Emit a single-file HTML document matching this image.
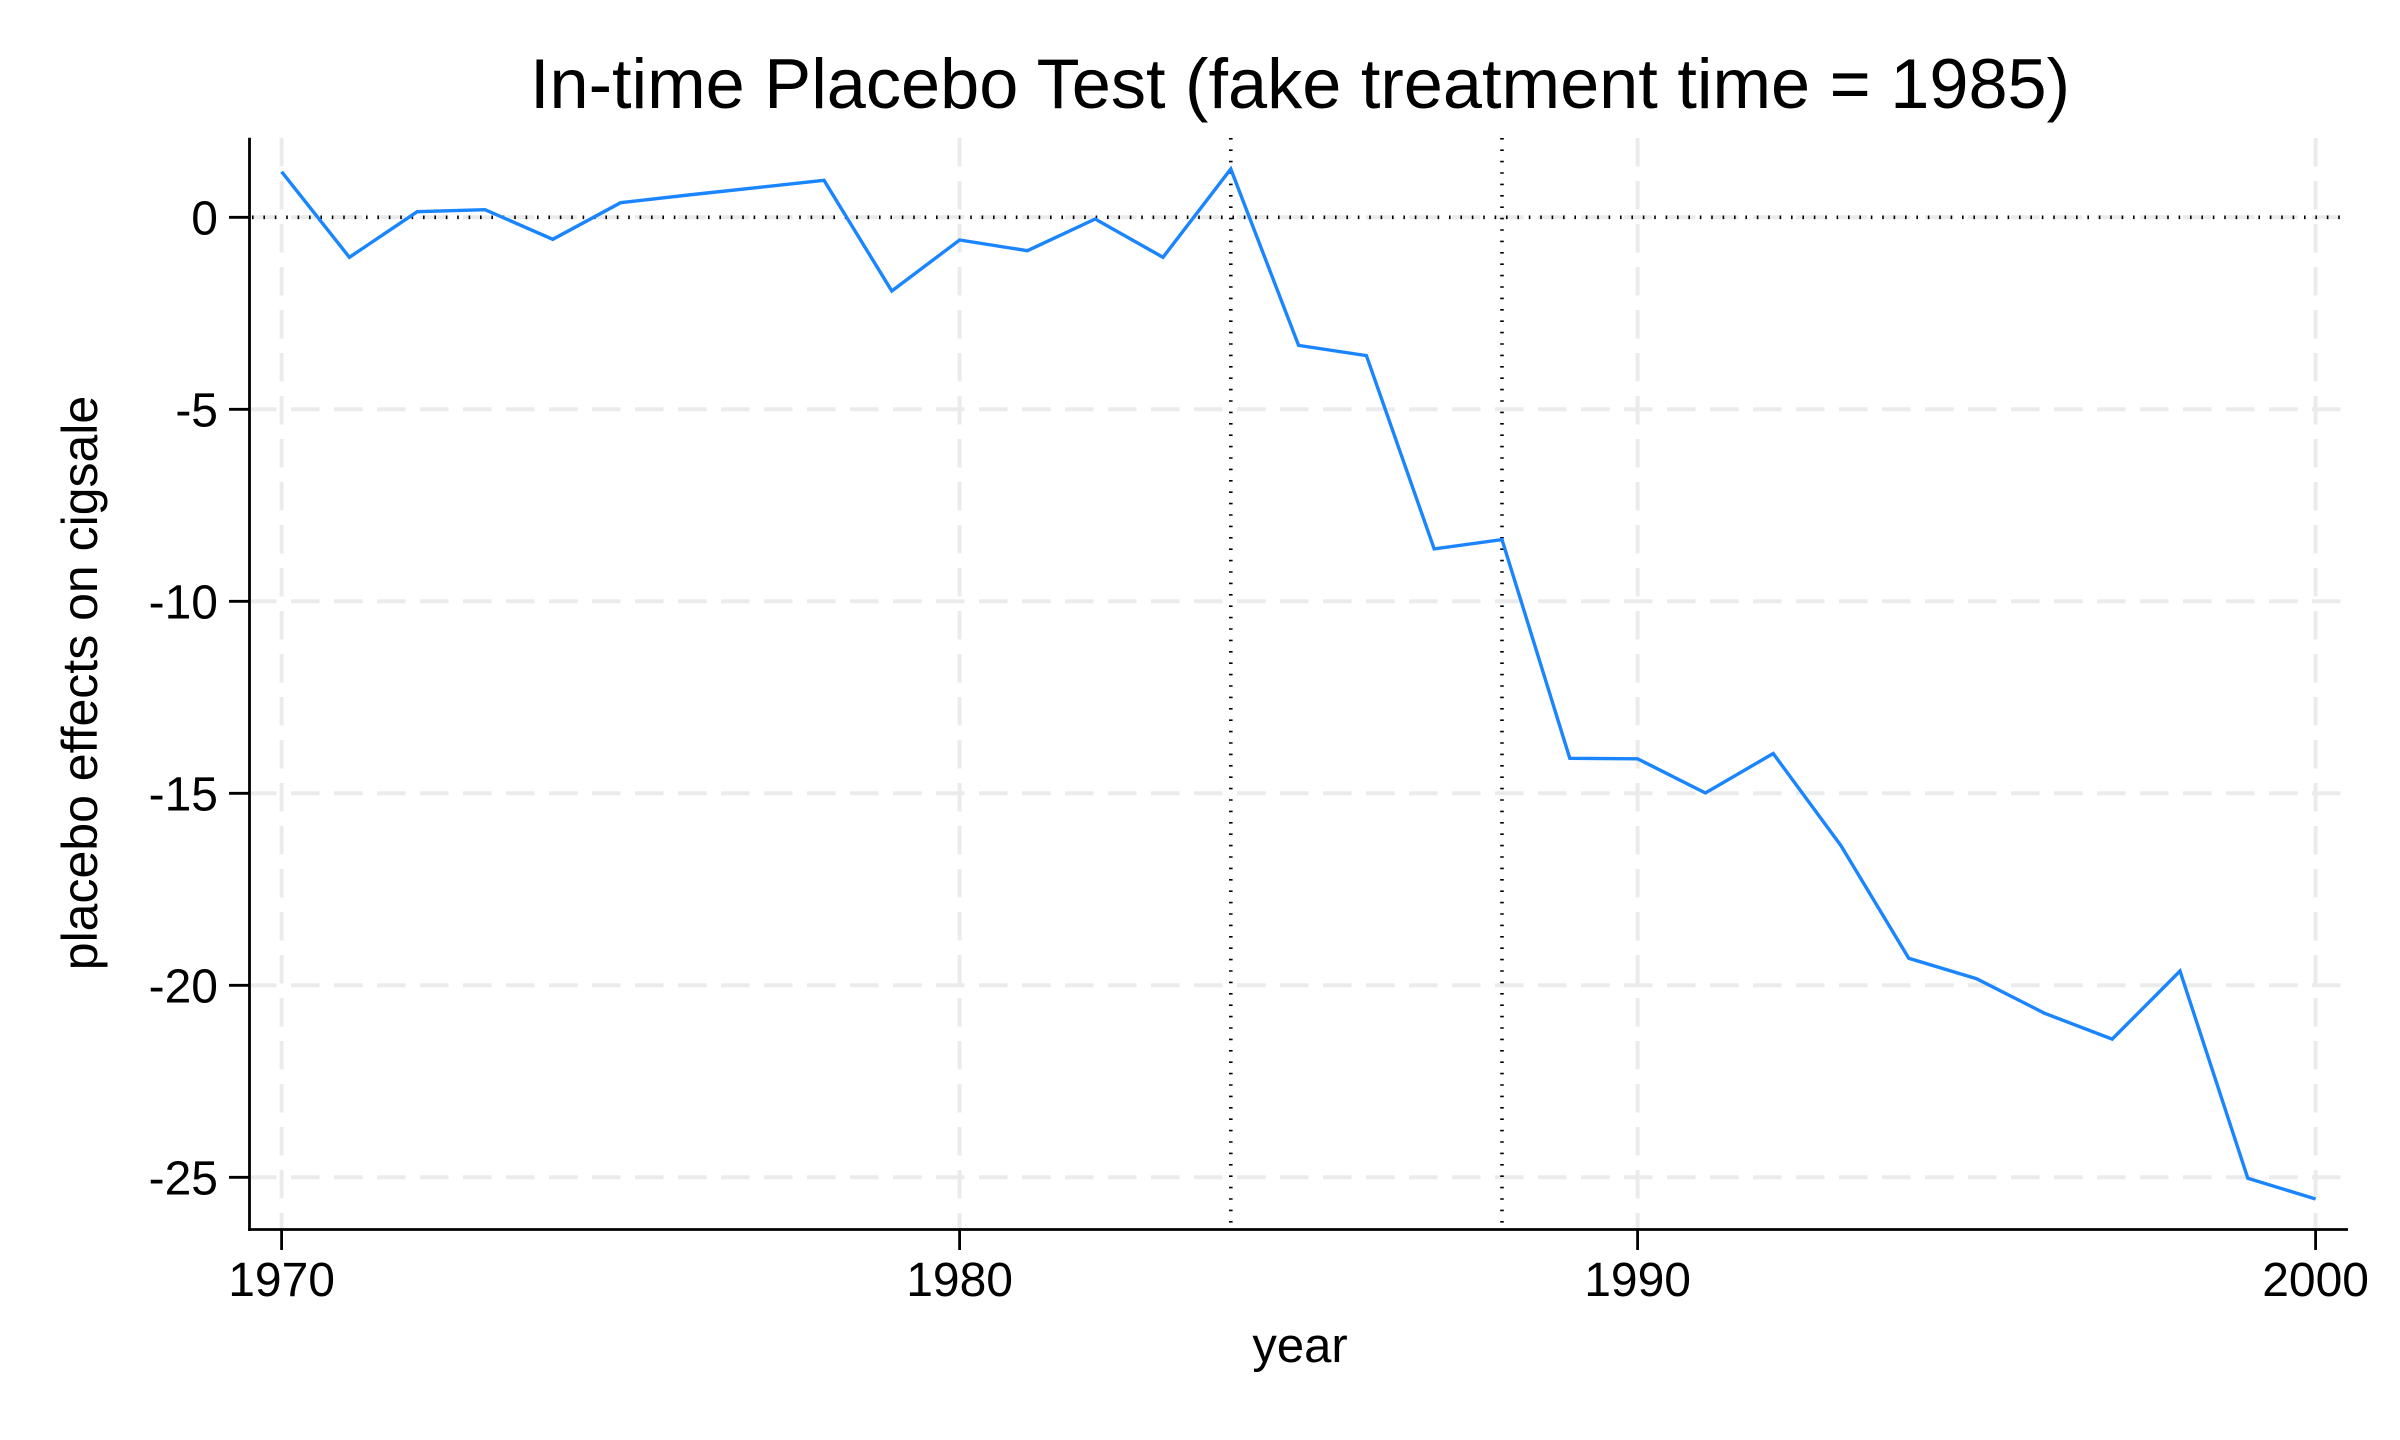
<!DOCTYPE html>
<html>
<head>
<meta charset="utf-8">
<style>
  html, body { margin: 0; padding: 0; background: #ffffff; }
  svg { display: block; }
  text { font-family: "Liberation Sans", Arial, Helvetica, sans-serif; fill: #000; }
</style>
</head>
<body>
<svg width="2400" height="1440" viewBox="0 0 2400 1440" xmlns="http://www.w3.org/2000/svg">
  <rect x="0" y="0" width="2400" height="1440" fill="#ffffff"/>

  <!-- horizontal gridlines -->
  <g stroke="#ebebeb" stroke-width="4" stroke-dasharray="28.5 14.5" stroke-dashoffset="2" fill="none">
    <line x1="250" y1="217.3" x2="2348" y2="217.3"/>
    <line x1="250" y1="409.3" x2="2348" y2="409.3"/>
    <line x1="250" y1="601.3" x2="2348" y2="601.3"/>
    <line x1="250" y1="793.3" x2="2348" y2="793.3"/>
    <line x1="250" y1="985.3" x2="2348" y2="985.3"/>
    <line x1="250" y1="1177.3" x2="2348" y2="1177.3"/>
  </g>
  <!-- vertical gridlines -->
  <g stroke="#ebebeb" stroke-width="4" stroke-dasharray="28.5 14.5" fill="none">
    <line x1="281.6" y1="138" x2="281.6" y2="1228"/>
    <line x1="959.6" y1="138" x2="959.6" y2="1228"/>
    <line x1="1637.6" y1="138" x2="1637.6" y2="1228"/>
    <line x1="2315.6" y1="138" x2="2315.6" y2="1228"/>
  </g>

  <!-- dotted reference lines -->
  <g stroke="#000" stroke-width="3.6" stroke-dasharray="1.6 9.8" fill="none">
    <line x1="252" y1="217.3" x2="2348" y2="217.3"/>
    <line x1="1230.8" y1="138" x2="1230.8" y2="1228"/>
    <line x1="1502" y1="138" x2="1502" y2="1228"/>
  </g>

  <!-- series -->
  <polyline fill="none" stroke="#1a85ff" stroke-width="3.4" stroke-linejoin="miter" stroke-linecap="butt"
    points="281.6,171.7 349.4,257.3 417.2,211.7 485.0,209.7 552.8,239.3 620.6,202.7 688.4,195.0 756.2,187.7 824.0,180.3 891.8,291.0 959.6,240.0 1027.4,250.7 1095.2,219.0 1163.0,257.3 1230.8,169.0 1298.6,345.4 1366.4,355.6 1434.2,548.9 1502.0,539.6 1569.8,758.3 1637.6,758.8 1705.4,793.0 1773.2,753.5 1841.0,845.7 1908.8,958.3 1976.6,978.7 2044.4,1013.2 2112.2,1039.1 2180.0,971.1 2247.8,1178.2 2315.6,1199.0"/>

  <!-- axes -->
  <g stroke="#000" fill="none">
    <line x1="249.5" y1="137.7" x2="249.5" y2="1230.9" stroke-width="2.8"/>
    <line x1="248.1" y1="1229.5" x2="2348" y2="1229.5" stroke-width="2.8"/>
  </g>
  <!-- y ticks -->
  <g stroke="#000" stroke-width="2.8">
    <line x1="229" y1="217.3" x2="249.5" y2="217.3"/>
    <line x1="229" y1="409.3" x2="249.5" y2="409.3"/>
    <line x1="229" y1="601.3" x2="249.5" y2="601.3"/>
    <line x1="229" y1="793.3" x2="249.5" y2="793.3"/>
    <line x1="229" y1="985.3" x2="249.5" y2="985.3"/>
    <line x1="229" y1="1177.3" x2="249.5" y2="1177.3"/>
  </g>
  <!-- x ticks -->
  <g stroke="#000" stroke-width="2.8">
    <line x1="281.6" y1="1229.5" x2="281.6" y2="1250"/>
    <line x1="959.6" y1="1229.5" x2="959.6" y2="1250"/>
    <line x1="1637.6" y1="1229.5" x2="1637.6" y2="1250"/>
    <line x1="2315.6" y1="1229.5" x2="2315.6" y2="1250"/>
  </g>

  <!-- y tick labels -->
  <g font-size="48" text-anchor="end">
    <text x="218" y="234.3">0</text>
    <text x="218" y="426.3">-5</text>
    <text x="218" y="618.3">-10</text>
    <text x="218" y="810.3">-15</text>
    <text x="218" y="1002.3">-20</text>
    <text x="218" y="1194.3">-25</text>
  </g>
  <!-- x tick labels -->
  <g font-size="48" text-anchor="middle">
    <text x="281.6" y="1296">1970</text>
    <text x="959.6" y="1296">1980</text>
    <text x="1637.6" y="1296">1990</text>
    <text x="2315.6" y="1296">2000</text>
  </g>

  <!-- axis titles -->
  <text x="1300" y="1362" font-size="49" text-anchor="middle">year</text>
  <text transform="translate(97,683) rotate(-90)" font-size="50" text-anchor="middle">placebo effects on cigsale</text>

  <!-- title -->
  <text x="1300" y="108" font-size="70.3" text-anchor="middle">In-time Placebo Test (fake treatment time = 1985)</text>
</svg>
</body>
</html>
